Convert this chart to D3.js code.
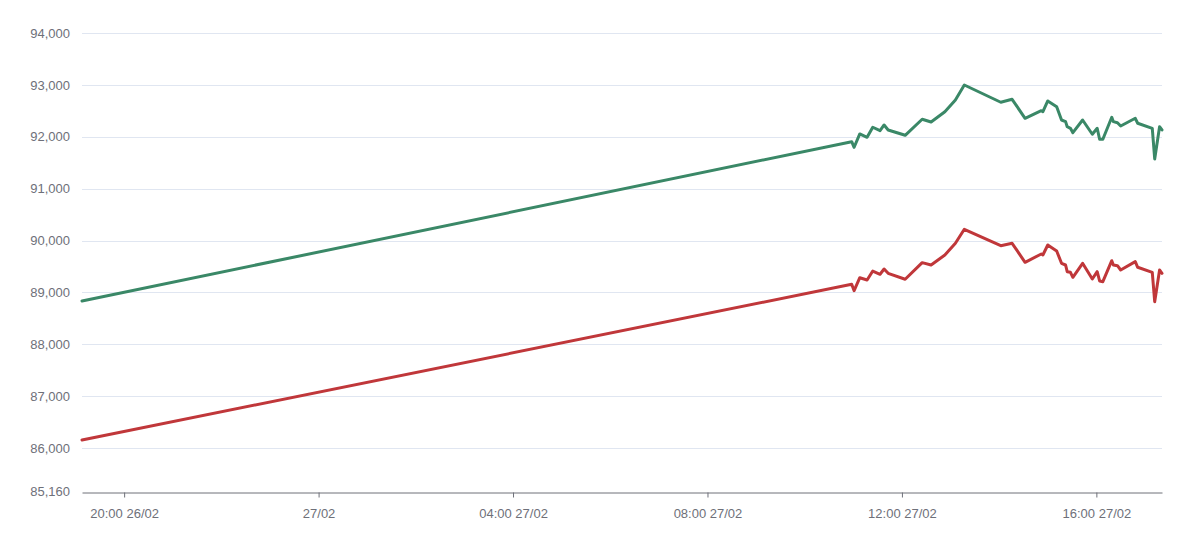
<!DOCTYPE html>
<html>
<head>
<meta charset="utf-8">
<script src="https://cdn.jsdelivr.net/npm/d3@7/dist/d3.min.js"></script>
<style>
  html, body { margin: 0; padding: 0; background: #ffffff; }
  svg { display: block; font-family: "Liberation Sans", Arial, Helvetica, sans-serif; }
</style>
</head>
<body>
<svg id="chart" width="1200" height="534"></svg>
<script>
// ---- Data ----
const times = [
  "2025-02-26T19:08", "2025-02-27T10:58", "2025-02-27T11:01", "2025-02-27T11:08",
  "2025-02-27T11:17", "2025-02-27T11:24", "2025-02-27T11:33", "2025-02-27T11:38",
  "2025-02-27T11:43", "2025-02-27T12:04", "2025-02-27T12:25", "2025-02-27T12:36",
  "2025-02-27T12:53", "2025-02-27T13:06", "2025-02-27T13:17", "2025-02-27T14:02",
  "2025-02-27T14:16", "2025-02-27T14:32", "2025-02-27T14:52", "2025-02-27T14:54",
  "2025-02-27T15:00", "2025-02-27T15:11", "2025-02-27T15:17", "2025-02-27T15:22",
  "2025-02-27T15:24", "2025-02-27T15:28", "2025-02-27T15:31", "2025-02-27T15:43",
  "2025-02-27T15:55", "2025-02-27T16:01", "2025-02-27T16:04", "2025-02-27T16:08",
  "2025-02-27T16:19", "2025-02-27T16:21", "2025-02-27T16:26", "2025-02-27T16:30",
  "2025-02-27T16:48", "2025-02-27T16:51", "2025-02-27T17:09", "2025-02-27T17:12",
  "2025-02-27T17:18", "2025-02-27T17:21"
];
const greenValues = [
  88834, 91905, 91797, 92054, 91990, 92183, 92117, 92227,
  92131, 92028, 92337, 92285, 92483, 92709, 92998, 92665,
  92722, 92356, 92503, 92483, 92690, 92580, 92323, 92291,
  92194, 92163, 92079, 92323, 92048, 92163, 91951, 91951,
  92375, 92291, 92271, 92208, 92356, 92260, 92163, 91572,
  92194, 92131
];
const redValues = [
  86155, 89156, 89033, 89283, 89239, 89412, 89349, 89451,
  89368, 89253, 89573, 89528, 89721, 89946, 90216, 89900,
  89946, 89580, 89740, 89721, 89914, 89798, 89561, 89528,
  89399, 89387, 89291, 89561, 89258, 89399, 89220, 89206,
  89611, 89528, 89515, 89432, 89592, 89484, 89387, 88821,
  89432, 89368
];
const yTickValues = [85160, 86000, 87000, 88000, 89000, 90000, 91000, 92000, 93000, 94000];
const yDomain = [85160, 94000];
const xTickTimes = [
  "2025-02-26T20:00", "2025-02-27T00:00", "2025-02-27T04:00",
  "2025-02-27T08:00", "2025-02-27T12:00", "2025-02-27T16:00"
];

// ---- Layout ----
const margin = { left: 82, right: 38, top: 33, bottom: 42.4 };
const W = 1200, H = 534;
const svg = d3.select("#chart");
const parse = d3.timeParse("%Y-%m-%dT%H:%M");
const dates = times.map(parse);

const x = d3.scaleTime()
  .domain(d3.extent(dates))
  .range([margin.left, W - margin.right]);
const y = d3.scaleLinear()
  .domain(yDomain)
  .range([H - margin.bottom, margin.top]);

const axisColor = "#6e7079";
const gridColor = "#e0e6f1";
const fontSize = 13;

// grid lines
svg.append("g")
  .selectAll("line")
  .data(yTickValues.filter(v => v !== yDomain[0]))
  .join("line")
  .attr("x1", margin.left)
  .attr("x2", W - margin.right)
  .attr("y1", d => Math.round(y(d)) + 0.5)
  .attr("y2", d => Math.round(y(d)) + 0.5)
  .attr("stroke", gridColor)
  .attr("stroke-width", 1);

// y axis (labels only)
const yAxis = d3.axisLeft(y)
  .tickValues(yTickValues)
  .tickFormat(d3.format(","))
  .tickSize(0)
  .tickPadding(12);
const yg = svg.append("g")
  .attr("transform", `translate(${margin.left},0)`)
  .call(yAxis);
yg.select(".domain").remove();
yg.selectAll("text")
  .attr("fill", axisColor)
  .attr("font-size", fontSize)
  .attr("font-family", "Liberation Sans, Arial, sans-serif");

// x axis
const fmtTick = d => (d.getHours() === 0 && d.getMinutes() === 0)
  ? d3.timeFormat("%d/%m")(d)
  : d3.timeFormat("%H:%M %d/%m")(d);
const xAxis = d3.axisBottom(x)
  .tickValues(xTickTimes.map(parse))
  .tickFormat(fmtTick)
  .tickSize(5)
  .tickSizeOuter(0)
  .tickPadding(11);
const xg = svg.append("g")
  .attr("transform", `translate(0,${Math.round(y(yDomain[0])) + 0.5})`)
  .call(xAxis);
xg.select(".domain").attr("stroke", axisColor).attr("stroke-width", 1);
xg.selectAll(".tick line").attr("stroke", axisColor);
xg.selectAll("text")
  .attr("fill", axisColor)
  .attr("font-size", fontSize)
  .attr("font-family", "Liberation Sans, Arial, sans-serif");

// lines
const line = d3.line()
  .x((d, i) => x(dates[i]))
  .y(d => y(d));

svg.append("path")
  .datum(greenValues)
  .attr("d", line)
  .attr("fill", "none")
  .attr("stroke", "#3a8867")
  .attr("stroke-width", 3)
  .attr("stroke-linejoin", "round")
  .attr("stroke-linecap", "round");

svg.append("path")
  .datum(redValues)
  .attr("d", line)
  .attr("fill", "none")
  .attr("stroke", "#c0373a")
  .attr("stroke-width", 3)
  .attr("stroke-linejoin", "round")
  .attr("stroke-linecap", "round");
</script>
</body>
</html>
